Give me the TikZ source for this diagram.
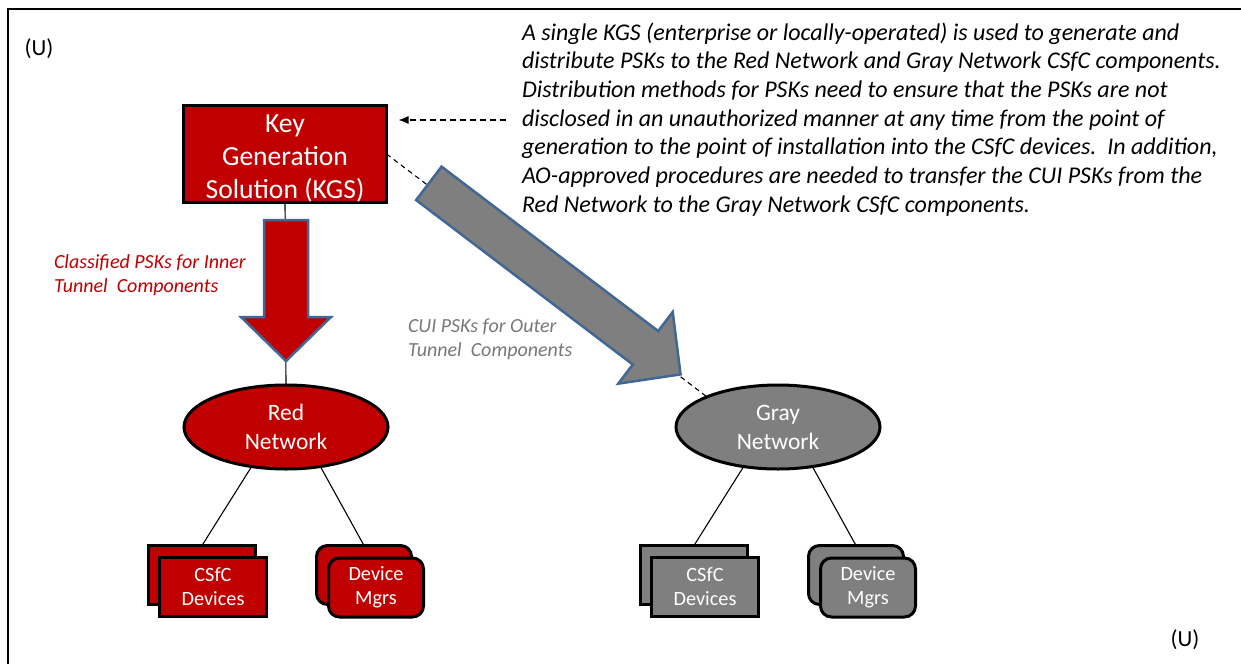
\documentclass[tikz,border=0pt]{standalone}
\usepackage{fontspec}
\setmainfont{Carlito}
\usetikzlibrary{shapes.geometric,arrows.meta}
\definecolor{redfill}{RGB}{192,0,0}
\definecolor{grayfill}{RGB}{127,127,127}
\definecolor{arrowedge}{RGB}{65,103,148}
\definecolor{graytext}{RGB}{120,120,120}
\begin{document}
\begin{tikzpicture}[x=1pt,y=-1pt,
  every node/.style={inner sep=0pt, outer sep=0pt},
  kgsbox/.style={rectangle, draw=black, line width=3.5pt, fill=redfill, minimum width=203pt, minimum height=97pt, text=white, align=center, font=\fontsize{27.6}{33}\selectfont},
  netnode/.style={ellipse, draw=black, line width=3pt, minimum width=204pt, minimum height=84pt, text=white, align=center, font=\fontsize{23.5}{29}\selectfont},
  devbox/.style={rectangle, draw=black, line width=3pt, minimum width=107pt, minimum height=59pt, text=white, align=center, font=\fontsize{20.3}{23.5}\selectfont},
  mgrbox/.style={devbox, rounded corners=11pt, minimum width=95pt},
  link/.style={draw=black, line width=1.1pt},
  dashlink/.style={draw=black, line width=1.1pt, dash pattern=on 5pt off 4pt},
  bigarrow/.style={draw=arrowedge, line width=2.5pt, line join=miter},
  lbl/.style={align=left, font=\fontsize{20}{24}\selectfont\itshape},
  cls/.style={font=\fontsize{23}{27}\selectfont},
]
\useasboundingbox (0,0) rectangle (1241,664);
\fill[white] (0,0) rectangle (1241,664);
\draw[line width=2pt] (8,664) -- (8,9) -- (1241,9);

% classification marks
\node[cls] (ctl) at (39,49) {(U)};
\node[cls] (cbr) at (1185,640) {(U)};

% main nodes
\node[kgsbox] (kgs) at (285,154) {\rule{0pt}{26pt}Key\\Generation\\Solution (KGS)};
\node[netnode, fill=redfill] (rednet) at (286,427) {Red\\Network};
\node[netnode, fill=grayfill] (graynet) at (778,427) {Gray\\Network};

% device stacks
\node[devbox, fill=redfill] (rcsfcb) at (202,575) {};
\node[devbox, fill=redfill] (rcsfc) at (213,586.5) {CSfC\\Devices};
\node[mgrbox, fill=redfill] (rmgrb) at (364,575) {};
\node[mgrbox, fill=redfill] (rmgr) at (376,587.5) {Device\\Mgrs};
\node[devbox, fill=grayfill] (gcsfcb) at (694,575) {};
\node[devbox, fill=grayfill] (gcsfc) at (705,586.5) {CSfC\\Devices};
\node[mgrbox, fill=grayfill] (gmgrb) at (856,575) {};
\node[mgrbox, fill=grayfill] (gmgr) at (868,587.5) {Device\\Mgrs};

% connectors
\draw[link] (kgs.south) -- (rednet.north);
\draw[dashlink] (kgs.east) -- (graynet.157);
\draw[link] (rednet.229) -- (rcsfcb.north);
\draw[link] (rednet.311) -- (rmgrb.north);
\draw[link] (graynet.229) -- (gcsfcb.north);
\draw[link] (graynet.311) -- (gmgrb.north);

% block arrows
\draw[bigarrow, fill=redfill] (264,220) -- (308,220) -- (308,317) -- (331,317) -- (286,361) -- (241,317) -- (264,317) -- cycle;
\begin{scope}[shift={(428.85,183.35)}, rotate=-37.2]
\draw[bigarrow, fill=grayfill] (0,-21) -- (272,-21) -- (272,-45) -- (316,0) -- (272,45) -- (272,21) -- (0,21) -- cycle;
\end{scope}

% labels
\node[lbl, text=redfill, anchor=west] (redlbl) at (54,275) {Classified PSKs for Inner\\Tunnel\ \ Components};
\node[lbl, text=graytext, anchor=west] (graylbl) at (408,339.5) {CUI PSKs for Outer\\Tunnel\ \ Components};

% description
\node[align=left, anchor=north west, font=\fontsize{24}{28.7}\selectfont\itshape] (para) at (522,22.5)
{A single KGS (enterprise or locally-operated) is used to generate and\\
distribute PSKs to the Red Network and Gray Network CSfC components.\\
Distribution methods for PSKs need to ensure that the PSKs are not\\
disclosed in an unauthorized manner at any time from the point of\\
generation to the point of installation into the CSfC devices.\ \ In addition,\\
AO-approved procedures are needed to transfer the CUI PSKs from the\\
Red Network to the Gray Network CSfC components.};

\coordinate (dstart) at (506,120);
\draw[line width=1.2pt, dash pattern=on 6pt off 4pt, shorten >=12pt, -{Latex[length=10pt,width=8pt]}] (dstart) -- (kgs.east |- dstart);
\end{tikzpicture}
\end{document}
